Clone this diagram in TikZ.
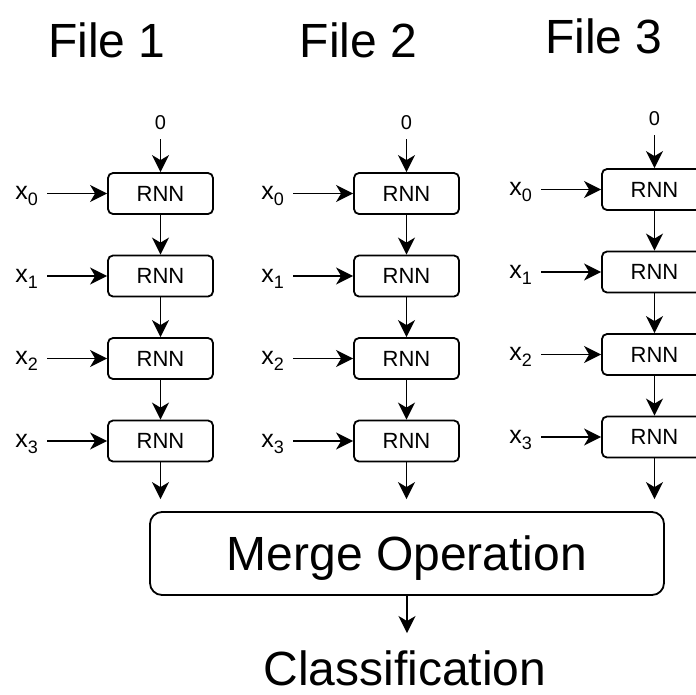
\documentclass[tikz,border=0pt]{standalone}
\usepackage{fontspec}
\setmainfont{Liberation Sans}
\usetikzlibrary{arrows.meta}
% x with a lowered index digit
\newcommand\xsub[1]{x\raisebox{-6pt}{\fontsize{18}{18}\selectfont #1}}
\begin{document}
\begin{tikzpicture}[x=1pt,y=-1pt,
  flow/.style={-{Stealth[length=17pt,width=17pt,inset=5pt]}, line width=1.9pt},
  rnn/.style={draw, line width=1.8pt, rounded corners=5pt, minimum width=105pt,
    minimum height=41pt, inner sep=0pt, font=\fontsize{22}{22}\selectfont},
  xlab/.style={inner sep=0pt, font=\fontsize{25}{25}\selectfont},
  zlab/.style={inner sep=0pt, font=\fontsize{20}{20}\selectfont},
  title/.style={inner sep=0pt, font=\fontsize{48}{48}\selectfont},
  merge/.style={draw, line width=1.8pt, rounded corners=12pt, minimum width=514pt,
    minimum height=83pt, inner sep=0pt, text depth=0pt, font=\fontsize{48}{48}\selectfont}]
\useasboundingbox (0,0) rectangle (696,694);
\clip (0,0) rectangle (696,694);

% column titles
\node[title, anchor=base] (f1) at (107,57) {File 1};
\node[title, anchor=base] (f2) at (358.5,57) {File 2};
\node[title, anchor=base] (f3) at (604,53) {File 3};

% merge stage and output
\node[merge] (merge) at (407,553.5) {Merge Operation};
\node[title, anchor=base] (cls) at (405,685) {Classification};
\draw[flow, shorten >=17pt] (merge.south) -- (merge.south |- cls.north);

% one recurrent chain per file
\foreach \c/\cx/\dy in {1/160.5/0, 2/406.5/0, 3/654.5/-4}{
  \node[zlab, anchor=base] (z\c) at (\cx,129+\dy) {0};
  \foreach \r in {0,1,2,3}{
    \pgfmathsetmacro\yy{193.5+82.5*\r+\dy}
    \node[rnn] (r\c\r) at (\cx,\yy) {RNN};
    \node[xlab, anchor=base east] (x\c\r) at (\cx-52.5-70,\yy+6) {\xsub{\r}};
    \draw[flow, shorten <=9pt] (x\c\r.east |- r\c\r.west) -- (r\c\r.west);
  }
  \draw[flow, shorten <=10pt] (z\c.south) -- (r\c0.north);
  \draw[flow] (r\c0.south) -- (r\c1.north);
  \draw[flow] (r\c1.south) -- (r\c2.north);
  \draw[flow] (r\c2.south) -- (r\c3.north);
  \draw[flow, shorten >=12pt] (r\c3.south) -- (r\c3.south |- merge.north);
}
\end{tikzpicture}
\end{document}
